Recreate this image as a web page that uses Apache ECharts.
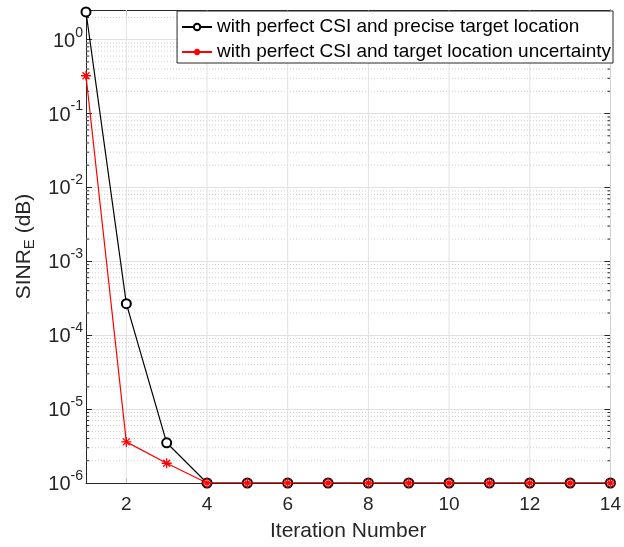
<!DOCTYPE html>
<html>
<head>
<meta charset="utf-8">
<script src="https://cdn.jsdelivr.net/npm/echarts@6/dist/echarts.min.js"></script>
<style>html,body{margin:0;padding:0;background:#fff;}#c{width:624px;height:547px;}</style>
</head>
<body>
<div id="c"></div>
<script>
const iterations = [1, 2, 3, 4, 5, 6, 7, 8, 9, 10, 11, 12, 13, 14];
const perfectLocation = [2.37, 2.67e-4, 3.5e-6, 1e-6, 1e-6, 1e-6, 1e-6, 1e-6, 1e-6, 1e-6, 1e-6, 1e-6, 1e-6, 1e-6];
const uncertainLocation = [0.325, 3.6e-6, 1.85e-6, 1e-6, 1e-6, 1e-6, 1e-6, 1e-6, 1e-6, 1e-6, 1e-6, 1e-6, 1e-6, 1e-6];
const xTickValues = [2, 4, 6, 8, 10, 12, 14];
const seriesNames = ['with perfect CSI and precise target location', 'with perfect CSI and target location uncertainty'];
const xTitle = 'Iteration Number';

const X_MIN = 1, X_MAX = 14, Y_MIN = 1e-6, Y_MAX = 2.52;
const TXT = '#262626';
const FONT = 'Liberation Sans';

const minorValues = [];
for (let e = -6; e <= 0; e++) {
  for (let k = 2; k <= 9; k++) {
    const v = k * Math.pow(10, e);
    if (v < Y_MAX) minorValues.push(v);
  }
}

const asterisk = 'path://M5,0L5,10M0,5L10,5M1.5,1.5L8.5,8.5M1.5,8.5L8.5,1.5';

const chart = echarts.init(document.getElementById('c'), null, {renderer: 'canvas'});

function minorRender(params, api) {
  const v = api.value(1);
  const p0 = api.coord([X_MIN, v]);
  const p1 = api.coord([X_MAX, v]);
  return {
    type: 'group',
    children: [
      {type: 'line', shape: {x1: p0[0], y1: p0[1], x2: p1[0], y2: p1[1]}, style: {stroke: '#cfcfcf', lineWidth: 1, lineDash: [1, 2]}},
      {type: 'line', shape: {x1: p0[0], y1: p0[1], x2: p0[0] + 3, y2: p0[1]}, style: {stroke: TXT, lineWidth: 1}},
      {type: 'line', shape: {x1: p1[0] - 3, y1: p1[1], x2: p1[0], y2: p1[1]}, style: {stroke: TXT, lineWidth: 1}}
    ]
  };
}
function vgridRender(params, api) {
  const v = api.value(0);
  const p0 = api.coord([v, Y_MIN]);
  const p1 = api.coord([v, Y_MAX]);
  return {type: 'line', shape: {x1: p0[0], y1: p0[1], x2: p1[0], y2: p1[1]}, style: {stroke: '#e0e0e0', lineWidth: 1}};
}

const yLabelFmt = function (val) {
  const e = Math.log10(val);
  if (Math.abs(e - Math.round(e)) > 1e-6) return '';
  return '{b|10}{s|' + Math.round(e) + '}';
};

const option = {
  animation: false,
  backgroundColor: '#ffffff',
  textStyle: {fontFamily: FONT, color: TXT},
  grid: {left: 86, right: 10, top: 10, bottom: 62, show: false},
  legend: {
    data: seriesNames,
    orient: 'vertical',
    right: 11,
    top: 11,
    padding: [6, 2, 1, 4],
    itemGap: 5,
    itemWidth: 30,
    itemHeight: 8,
    borderColor: TXT,
    borderWidth: 1,
    backgroundColor: '#ffffff',
    textStyle: {fontFamily: FONT, fontSize: 19, color: '#000', lineHeight: 20}
  },
  xAxis: [{
    type: 'value', min: X_MIN, max: X_MAX, position: 'bottom',
    name: xTitle, nameLocation: 'middle', nameGap: 38,
    nameTextStyle: {fontFamily: FONT, fontSize: 21, color: TXT},
    axisLine: {show: true, lineStyle: {color: TXT, width: 1}},
    axisTick: {show: true, inside: true, length: 5, customValues: xTickValues, lineStyle: {color: TXT}},
    axisLabel: {show: true, customValues: xTickValues, margin: 12, fontFamily: FONT, fontSize: 19, color: TXT},
    splitLine: {show: false}
  }, {
    type: 'value', min: X_MIN, max: X_MAX, position: 'top',
    axisLine: {show: true, lineStyle: {color: TXT, width: 1}},
    axisTick: {show: true, inside: true, length: 5, customValues: xTickValues, lineStyle: {color: TXT}},
    axisLabel: {show: false},
    splitLine: {show: false}
  }],
  yAxis: [{
    type: 'log', min: Y_MIN, max: Y_MAX, position: 'left', logBase: 10,
    name: '{a|SINR}{e|E}{a| (dB)}', nameLocation: 'middle', nameGap: 48,
    nameTextStyle: {rich: {a: {fontFamily: FONT, fontSize: 21, color: TXT}, e: {fontFamily: FONT, fontSize: 15, color: TXT, padding: [12, 0, 0, 0]}}},
    axisLine: {show: true, lineStyle: {color: TXT, width: 1}},
    axisTick: {show: true, inside: true, length: 6, lineStyle: {color: TXT}},
    axisLabel: {
      show: true, margin: 3, formatter: yLabelFmt,
      rich: {
        b: {fontFamily: FONT, fontSize: 20, color: TXT, padding: [3, 0, 0, 0]},
        s: {fontFamily: FONT, fontSize: 14, color: TXT, padding: [0, 0, 14, 0]}
      }
    },
    splitLine: {show: true, lineStyle: {color: '#e0e0e0', width: 1}}
  }, {
    type: 'log', min: Y_MIN, max: Y_MAX, position: 'right', logBase: 10,
    axisLine: {show: true, lineStyle: {color: TXT, width: 1}},
    axisTick: {show: true, inside: true, length: 6, lineStyle: {color: TXT}},
    axisLabel: {show: false},
    splitLine: {show: false}
  }],
  series: [
    {
      type: 'custom', xAxisIndex: 0, yAxisIndex: 0, silent: true, z: 1,
      renderItem: minorRender,
      data: minorValues.map(v => [X_MIN, v]),
      encode: {x: 0, y: 1}
    },
    {
      type: 'custom', xAxisIndex: 0, yAxisIndex: 0, silent: true, z: 1,
      renderItem: vgridRender,
      data: xTickValues.map(v => [v, Y_MIN]),
      encode: {x: 0, y: 1}
    },
    {
      name: seriesNames[0], type: 'line', xAxisIndex: 0, yAxisIndex: 0, z: 3,
      data: iterations.map((x, i) => [x, perfectLocation[i]]),
      symbol: 'emptyCircle', symbolSize: 9,
      lineStyle: {color: '#000000', width: 1.2},
      itemStyle: {color: '#000000', borderColor: '#000000', borderWidth: 1.2}
    },
    {
      name: seriesNames[1], type: 'line', xAxisIndex: 0, yAxisIndex: 0, z: 4,
      data: iterations.map((x, i) => [x, uncertainLocation[i]]),
      symbol: asterisk, symbolSize: 10,
      lineStyle: {color: '#ff0000', width: 1.2},
      itemStyle: {color: '#ff0000', borderColor: '#ff0000', borderWidth: 1.3}
    }
  ]
};
chart.setOption(option);
</script>
</body>
</html>
